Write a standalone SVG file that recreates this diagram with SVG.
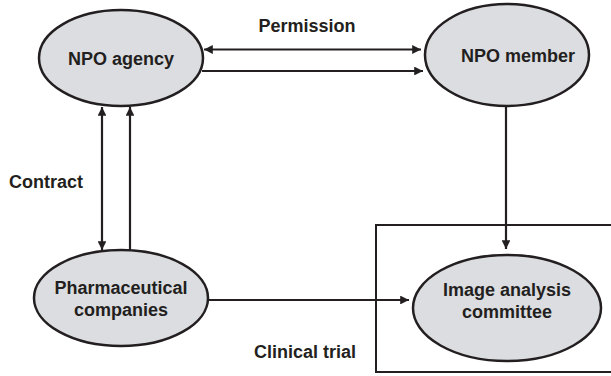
<svg xmlns="http://www.w3.org/2000/svg" width="611" height="376" viewBox="0 0 611 376">
<style>
.node{fill:#dcdde0;stroke:#231f20;stroke-width:2.5}
.lbl{font-family:"Liberation Sans",Arial,sans-serif;font-weight:bold;font-size:18px;fill:#231f20;text-anchor:middle}
.edge{stroke:#231f20;stroke-width:2.2;fill:none}
</style>
<defs>
<marker id="ah" viewBox="0 0 10 10" refX="10" refY="5" markerWidth="4" markerHeight="4" orient="auto-start-reverse" markerUnits="strokeWidth">
<path d="M0,0 L10,5 L0,10 z" fill="#231f20"/>
</marker>
</defs>
<rect x="376" y="225" width="240" height="147" fill="none" stroke="#231f20" stroke-width="2"/>
<g id="connectors">
<line class="edge" x1="204" y1="49.5" x2="421" y2="49.5" marker-start="url(#ah)" marker-end="url(#ah)"/>
<line class="edge" x1="202" y1="71" x2="423" y2="71" marker-end="url(#ah)"/>
<line class="edge" x1="102" y1="107" x2="102" y2="250" marker-start="url(#ah)" marker-end="url(#ah)"/>
<line class="edge" x1="130" y1="250" x2="130" y2="107" marker-end="url(#ah)"/>
<line class="edge" x1="506" y1="106" x2="506" y2="249" marker-end="url(#ah)"/>
<line class="edge" x1="208" y1="300" x2="409" y2="300" marker-end="url(#ah)"/>
</g>
<g id="npo-agency">
<ellipse class="node" cx="121" cy="58" rx="82" ry="48"/>
<text class="lbl" x="121" y="65">NPO agency</text>
</g>
<g id="npo-member">
<ellipse class="node" cx="507" cy="55" rx="82" ry="51"/>
<text class="lbl" x="518" y="62">NPO member</text>
</g>
<g id="pharma">
<ellipse class="node" cx="121" cy="298" rx="87" ry="48"/>
<text class="lbl" x="121" y="294">Pharmaceutical</text>
<text class="lbl" x="121" y="316">companies</text>
</g>
<g id="image-analysis">
<ellipse class="node" cx="507" cy="308" rx="94" ry="53"/>
<text class="lbl" x="507" y="296">Image analysis</text>
<text class="lbl" x="507" y="318">committee</text>
</g>
<text class="lbl" x="307" y="32">Permission</text>
<text class="lbl" x="46" y="188">Contract</text>
<text class="lbl" x="305" y="358">Clinical trial</text>
</svg>
